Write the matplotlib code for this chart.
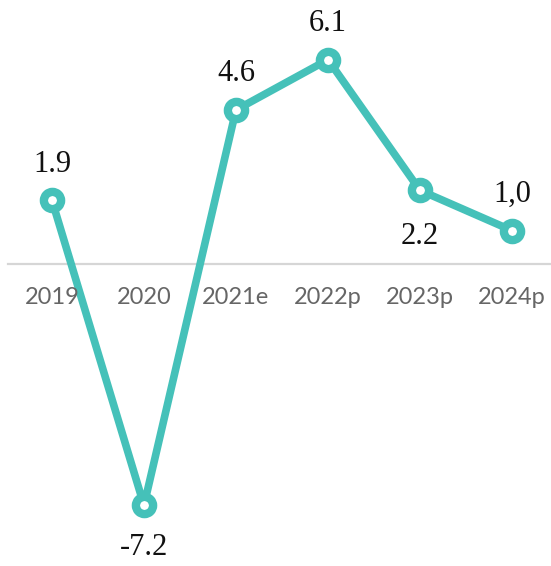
import matplotlib.pyplot as plt
import numpy as np

years = ['2019', '2020', '2021e', '2022p', '2023p', '2024p']
growth = [1.9, -7.2, 4.6, 6.1, 2.2, 1.0]
labels = ['1.9', '-7.2', '4.6', '6.1', '2.2', '1,0']
# label above (+) or below (-) the point
label_pos = [1, -1, 1, 1, -1, 1]

teal = '#45c1b9'

fig = plt.figure(figsize=(5.51, 5.66), dpi=100)
ax = fig.add_axes([0, 0, 1, 1])

x = np.arange(len(years))
ax.plot(x, growth, color=teal, lw=5.5, marker='o', ms=12.4, mew=6,
        mfc='white', mec=teal, zorder=3, solid_joinstyle='round')

ax.axhline(0, xmin=8/551, xmax=1, color='#d6d6d6', lw=1.6, zorder=1)

for xi, v, lab, p in zip(x, growth, labels, label_pos):
    off = 26 if p > 0 else -30
    if lab == '2.2':
        off = -33
    ax.annotate(lab, (xi, v), xytext=(0, off), textcoords='offset points',
                ha='center', va='center', fontsize=22,
                family='Liberation Serif', color='#111111')

for xi, yr in zip(x, years):
    ax.text(xi, -1.0, yr, ha='center', va='center', fontsize=17,
            family='Lato', color='#666666')

ax.set_xlim(-0.565, 5.424)
ax.set_ylim(-9.01, 7.88)
ax.set_axis_off()

plt.savefig('out.png', dpi=100)
